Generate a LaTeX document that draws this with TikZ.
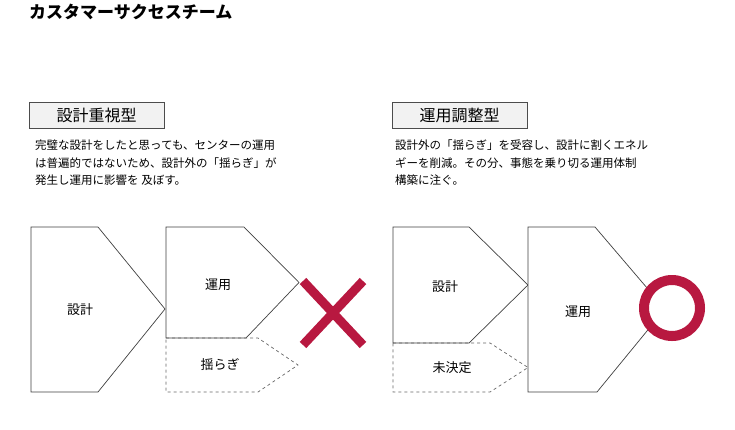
\documentclass[tikz,border=0pt]{standalone}
\usepackage{fontspec}
\setmainfont{Noto Sans CJK JP}
\definecolor{mkred}{RGB}{184,24,64}
\begin{document}
\begin{tikzpicture}[x=1pt, y=-1pt,
    penta/.style={draw=black!75, line width=0.7pt, fill=white},
    penta dash/.style={draw=black!60, dashed, line width=0.7pt},
    headbox/.style={draw=black!70, fill=black!5, line width=0.7pt, inner sep=0pt,
        minimum width=135pt, minimum height=26pt, font=\fontsize{16}{18}\selectfont},
    bodytext/.style={anchor=north west, align=left, inner sep=0pt,
        font=\fontsize{11.5}{17.5}\selectfont},
    lbl/.style={font=\fontsize{13}{15}\selectfont}]
    \useasboundingbox (0,0) rectangle (735,429);

    \node[anchor=west, inner sep=0pt, font=\fontsize{17}{20}\selectfont\bfseries] (title) at (29,12) {カスタマーサクセスチーム};

    % left: design oriented
    \node[headbox] (headL) at (96.5,115) {設計重視型};
    \node[bodytext] (textL) at (35,140) {完璧な設計をしたと思っても、センターの運用\\は普遍的ではないため、設計外の「揺らぎ」が\\発生し運用に影響を 及ぼす。};

    \draw[penta] (31,227) -- (98,227) -- (165,309) -- (98,392) -- (31,392) -- cycle;
    \draw[penta] (166,227) -- (244,227) -- (299,282.5) -- (246,338) -- (166,338) -- cycle;
    \draw[penta dash] (166,338) -- (258,338) -- (298,365) -- (258,392) -- (166,392) -- cycle;
    \node[lbl] (designL) at (80,310) {設計};
    \node[lbl] (opsL) at (218,285) {運用};
    \node[lbl] (swayL) at (220,365) {揺らぎ};

    \draw[mkred, line width=9pt] (303,281) -- (363,345) (363,281) -- (303,345);

    % right: operation oriented
    \node[headbox] (headR) at (459.5,115) {運用調整型};
    \node[bodytext] (textR) at (395,140) {設計外の「揺らぎ」を受容し、設計に割くエネル\\ギーを削減。その分、事態を乗り切る運用体制\\構築に注ぐ。};

    \draw[penta] (393,227) -- (469,227) -- (528,285) -- (469,343) -- (393,343) -- cycle;
    \draw[penta dash] (393,343) -- (490,343) -- (528,367.5) -- (490,392) -- (393,392) -- cycle;
    \draw[penta] (528,227) -- (595,227) -- (665,309) -- (597,392) -- (528,392) -- cycle;
    \node[lbl] (designR) at (445,287) {設計};
    \node[lbl] (pendR) at (452,368) {未決定};
    \node[lbl] (opsR) at (578,312) {運用};

    \draw[mkred, line width=10pt, fill=white] (672,308) circle (28);
\end{tikzpicture}
\end{document}
